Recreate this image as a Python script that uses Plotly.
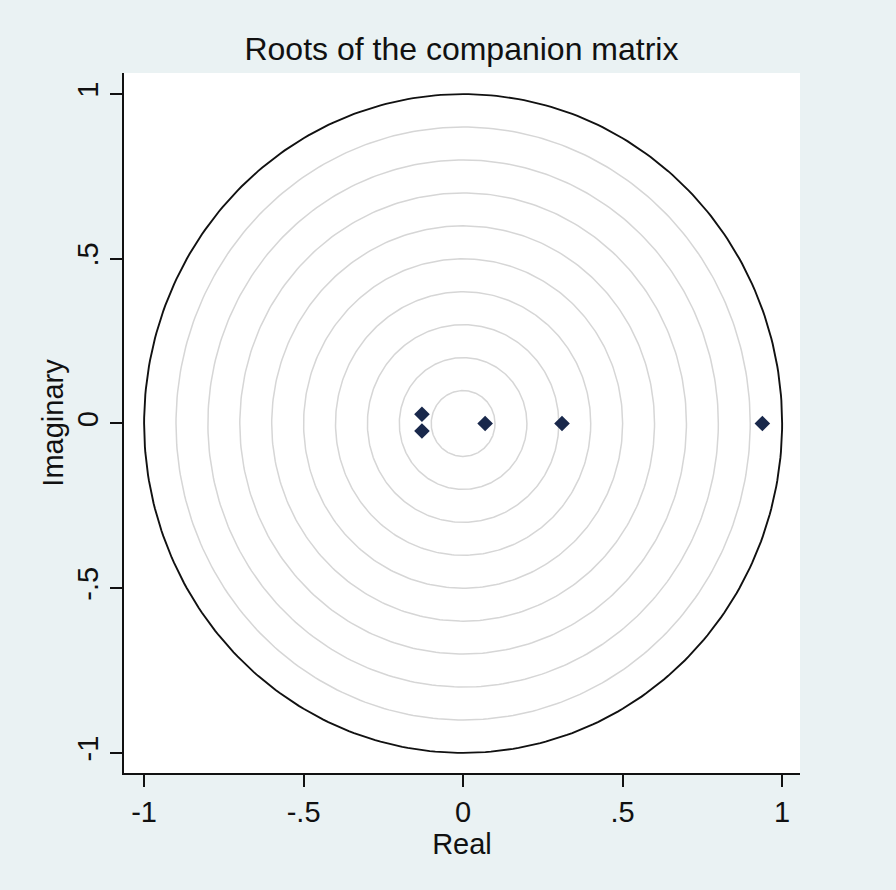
import numpy as np
import plotly.graph_objects as go

# Roots of the companion matrix
root_real = [-0.129, -0.129, 0.069, 0.310, 0.938]
root_imag = [0.028, -0.023, 0.0, 0.0, 0.0]

# Reference circles
grid_radii = [0.1, 0.2, 0.3, 0.4, 0.5, 0.6, 0.7, 0.8, 0.9]
unit_radius = 1.0

tick_vals = [-1, -0.5, 0, 0.5, 1]
tick_text = ["-1", "-.5", "0", ".5", "1"]

theta = np.linspace(0, 2 * np.pi, 361)

fig = go.Figure()

for r in grid_radii:
    fig.add_trace(
        go.Scatter(
            x=r * np.cos(theta),
            y=r * np.sin(theta),
            mode="lines",
            line={"color": "#d6d6d6", "width": 1.5},
            hoverinfo="skip",
            showlegend=False,
        )
    )

fig.add_trace(
    go.Scatter(
        x=unit_radius * np.cos(theta),
        y=unit_radius * np.sin(theta),
        mode="lines",
        line={"color": "#111111", "width": 1.9},
        hoverinfo="skip",
        showlegend=False,
    )
)

fig.add_trace(
    go.Scatter(
        x=root_real,
        y=root_imag,
        mode="markers",
        marker={"symbol": "diamond", "size": 12, "color": "#19284b"},
        showlegend=False,
    )
)

font_family = "Liberation Sans, Arial, sans-serif"
tick_font = {"family": font_family, "size": 29, "color": "#111111"}
title_font = {"family": font_family, "size": 29, "color": "#111111"}

fig.update_layout(
    width=896,
    height=890,
    paper_bgcolor="#EAF2F3",
    plot_bgcolor="#FFFFFF",
    margin={"l": 124, "r": 96, "t": 73, "b": 117},
    title={
        "text": "Roots of the companion matrix",
        "x": 0.515,
        "xanchor": "center",
        "y": 0.945,
        "yanchor": "middle",
        "font": {"family": font_family, "size": 32, "color": "#111111"},
    },
    font=tick_font,
)

fig.update_xaxes(
    range=[-1.063, 1.056],
    tickvals=tick_vals,
    ticktext=tick_text,
    ticks="outside",
    ticklen=12,
    tickwidth=2,
    tickcolor="#111111",
    tickfont=tick_font,
    showline=True,
    linecolor="#111111",
    linewidth=2,
    showgrid=False,
    zeroline=False,
    title={"text": "Real", "font": title_font, "standoff": 0},
)
fig.update_yaxes(
    range=[-1.061, 1.064],
    tickvals=tick_vals,
    ticktext=tick_text,
    tickangle=-90,
    ticks="outside",
    ticklen=12,
    tickwidth=2,
    tickcolor="#111111",
    tickfont=tick_font,
    showline=True,
    linecolor="#111111",
    linewidth=2,
    showgrid=False,
    zeroline=False,
    title={"text": "Imaginary", "font": title_font, "standoff": 0},
)

fig.write_html(
    "out.html",
    config={"displayModeBar": False},
    post_script="document.body.style.margin='0';document.body.style.background='#EAF2F3';",
)
